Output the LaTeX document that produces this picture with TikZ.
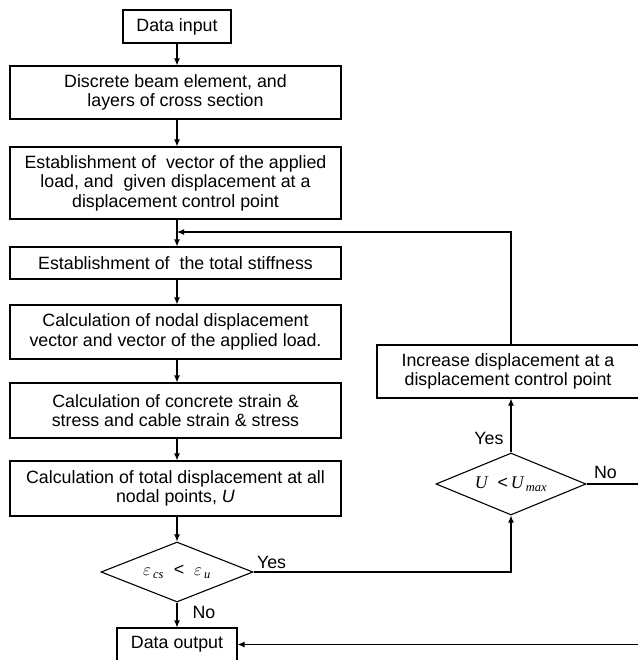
\documentclass[tikz,border=0pt]{standalone}
\usepackage{fontspec}
\setmainfont{Liberation Sans}
\newfontfamily\romain{Liberation Serif}
\usetikzlibrary{
	calc,
	arrows.meta,
	shapes.geometric,
	positioning
	}
\tikzset{font={\fontsize{17.8pt}{19.5pt}\selectfont}}
\tikzstyle{boite-std}=[draw,rectangle,line width=1.1pt,align=center,inner sep=0pt,minimum width=331pt]
\tikzstyle{losange-std}=[draw,diamond,line width=1.1pt,inner sep=0pt,aspect=2.5]
\tikzstyle{fleche-std}=[line width=1.1pt,-{Latex[length=7pt,width=6pt]}]
\tikzstyle{trait-std}=[line width=1.1pt]
\newcommand{\varit}[1]{{\romain\itshape #1}}

\begin{document}
\begin{tikzpicture}[x=1pt,y=-1pt]
        \useasboundingbox (0,0) rectangle (637,660);
        % colonne principale
        \node[boite-std, minimum width=108pt, minimum height=33pt] (entree) at (177,26.5) {Data input};
        \node[boite-std, minimum height=53pt] (b-elem) at (175.5,92.5) {Discrete beam element, and\\layers of cross section};
        \node[boite-std, minimum height=72pt] (b-charge) at (175.5,183) {Establishment of~ vector of the applied\\load, and~ given displacement at a\\displacement control point};
        \node[boite-std, minimum height=32pt] (b-raideur) at (175.5,263) {Establishment of~ the total stiffness};
        \node[boite-std, minimum height=54pt] (b-depl) at (175.5,332) {Calculation of nodal displacement\\vector and vector of the applied load.};
        \node[boite-std, minimum height=55pt] (b-contr) at (175.5,410.5) {Calculation of concrete strain \&\\stress and cable strain \& stress};
        \node[boite-std, minimum height=55pt] (b-total) at (175.5,488.5) {Calculation of total displacement at all\\nodal points, \textit{U}};
        \node[losange-std, minimum width=152pt, minimum height=60pt] (d-eps) at (177,572) {$\varepsilon$\textsubscript{\,\varit{cs}}\ \ <\ \ $\varepsilon$\textsubscript{\,\varit{u}}};
        \node[boite-std, minimum width=120pt, minimum height=33pt] (sortie) at (177,644.5) {Data output};
        % boucle de droite
        \node[losange-std, minimum width=150pt, minimum height=62pt] (d-umax) at (511,484) {\varit{U}\ \ <\,\varit{U}\textsubscript{\,\varit{max}}};
        \node[boite-std, minimum width=262pt, minimum height=53pt] (b-incr) at (508,371.5) {Increase displacement at a\\displacement control point};
        \coordinate (jonction) at (177,232);
        \coordinate (coin) at (639,484);
        %
        \draw[fleche-std] (entree) -- (entree |- b-elem.north);
        \draw[fleche-std] (b-elem.south -| entree) -- (entree |- b-charge.north);
        \draw[fleche-std] (b-charge.south -| entree) -- (entree |- b-raideur.north);
        \draw[fleche-std] (b-raideur.south -| entree) -- (entree |- b-depl.north);
        \draw[fleche-std] (b-depl.south -| entree) -- (entree |- b-contr.north);
        \draw[fleche-std] (b-contr.south -| entree) -- (entree |- b-total.north);
        \draw[fleche-std] (b-total.south -| entree) -- (d-eps.north);
        \draw[fleche-std] (d-eps.south) -- (sortie.north);
        %
        \draw[fleche-std] (d-eps.east) -| (d-umax.south);
        \draw[fleche-std] (d-umax.north) -- (d-umax.north |- b-incr.south);
        \draw[fleche-std] (b-incr.north -| d-umax) |- (jonction);
        \draw[trait-std] (d-umax.east) -- (coin);
        \draw[fleche-std] (coin) |- (sortie.east);
        %
        \node[anchor=south west] at (d-eps.east) {Yes};
        \node[anchor=north west] at ($(d-eps.south)+(12,0)$) {No};
        \node[anchor=south east] at ($(d-umax.north)+(-4,-4)$) {Yes};
        \node[anchor=south west] at ($(d-umax.east)+(4,-2)$) {No};
    \end{tikzpicture}
\end{document}
